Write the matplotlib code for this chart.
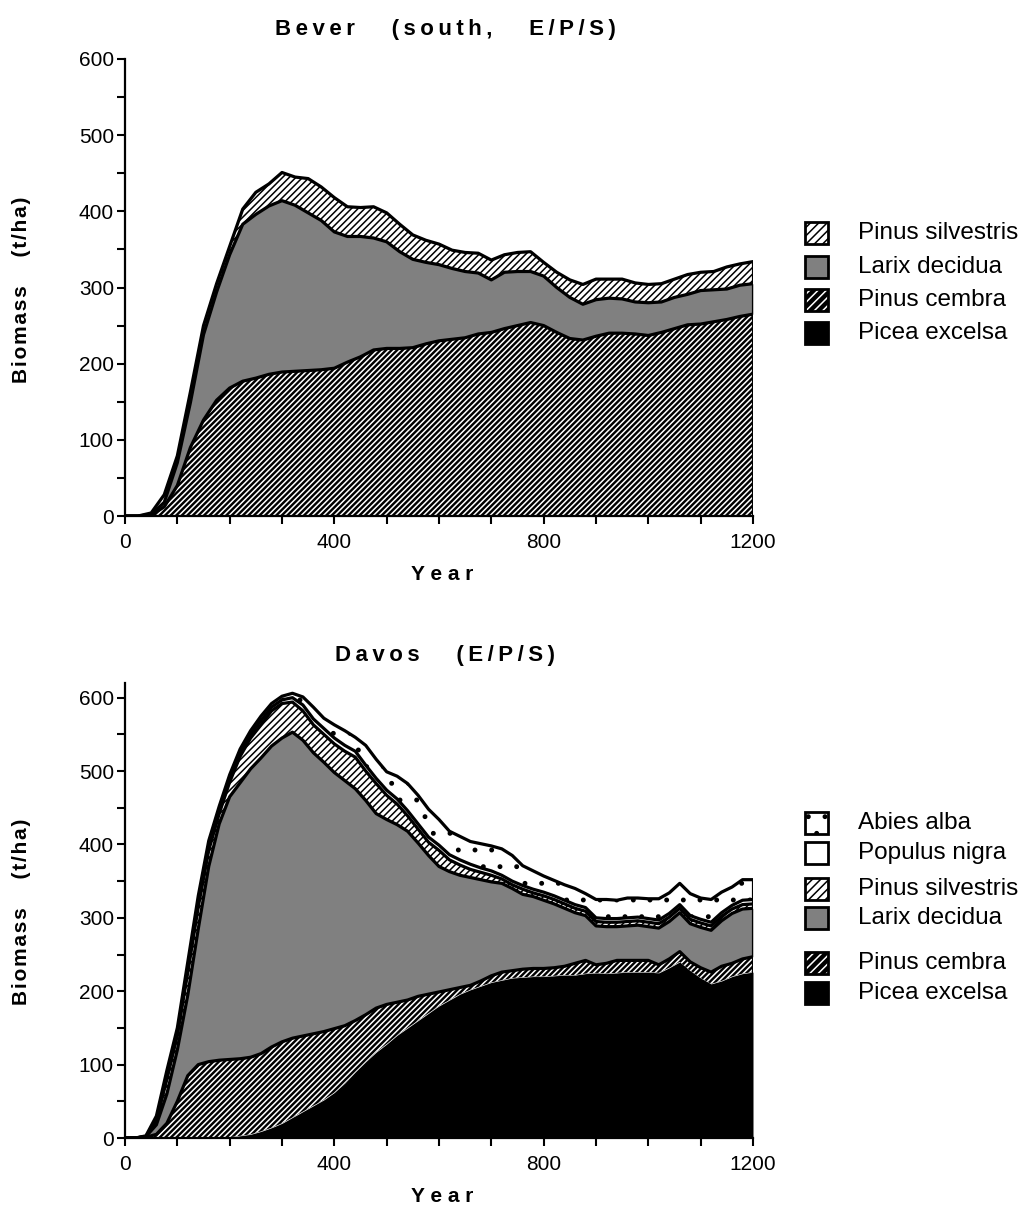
import numpy as np
import matplotlib
matplotlib.use("Agg")
import matplotlib.pyplot as plt
from matplotlib.patches import Rectangle

plt.rcParams['font.family'] = ['Liberation Sans', 'DejaVu Sans']
plt.rcParams['hatch.linewidth'] = 1.1

# ---------------- data: Bever (south) -- cumulative upper boundaries ----------------
bever_years = [0, 25, 50, 75, 100, 125, 150, 175, 200, 225, 250, 275, 300, 325, 350, 375,
               400, 425, 450, 475, 500, 525, 550, 575, 600, 625, 650, 675, 700, 725, 750,
               775, 800, 825, 850, 875, 900, 925, 950, 975, 1000, 1025, 1050, 1075, 1100,
               1125, 1150, 1175, 1200]
bever_picea_top = [0] * 49
bever_cembra_top = [0, 0, 1, 12, 40, 90, 126, 152, 168, 177, 181, 186, 189, 190, 191, 192,
                    194, 202, 209, 218, 220, 220, 221, 226, 230, 232, 234, 239, 241, 246, 250,
                    254, 250, 241, 233, 231, 236, 240, 240, 239, 237, 241, 246, 251, 252,
                    255, 258, 262, 265]
bever_larix_top = [0, 0, 2, 18, 70, 149, 238, 294, 343, 383, 396, 407, 414, 408, 398, 388,
                   373, 367, 367, 365, 360, 347, 337, 333, 330, 325, 321, 319, 310, 320, 321,
                   321, 315, 300, 287, 278, 284, 286, 285, 281, 280, 281, 287, 291, 296,
                   297, 298, 303, 305]
bever_silvestris_top = [0, 0, 4, 28, 79, 163, 250, 305, 354, 403, 425, 436, 451, 445, 443, 432,
                        418, 406, 405, 406, 398, 383, 369, 362, 357, 349, 346, 345, 336, 343, 346,
                        347, 333, 320, 310, 304, 311, 311, 311, 306, 304, 305, 311, 317, 320,
                        321, 327, 331, 334]
bever_labels = ['Pinus silvestris', 'Larix decidua', 'Pinus cembra', 'Picea excelsa']

# ---------------- data: Davos -- cumulative upper boundaries ----------------
davos_years = list(range(0, 1201, 20))
davos_picea_top = [0, 0, 0, 0, 0, 0, 0, 0, 0, 0,
                   1, 3, 5, 9, 14, 20, 28, 36, 44, 52, 62, 75, 90, 104, 117, 128, 140, 150,
                   160, 170, 180, 188, 196, 202, 207, 212, 215, 218, 219, 220, 220, 221, 222,
                   222, 224, 225, 224, 225, 226, 226, 226, 225, 232, 240, 228, 218, 210, 214,
                   220, 224, 226]
davos_cembra_top = [0, 0, 1, 5, 20, 50, 85, 100, 104, 106,
                    107, 108, 110, 115, 124, 131, 136, 139, 142, 145, 149, 153, 160, 168, 177,
                    182, 185, 188, 193, 196, 199, 202, 205, 208, 214, 221, 226, 228, 230, 231,
                    231, 232, 234, 238, 242, 236, 238, 242, 242, 242, 242, 236, 244, 254, 240,
                    232, 226, 234, 238, 244, 247]
davos_larix_top = [0, 0, 2, 18, 60, 120, 195, 285, 370, 428,
                   465, 484, 503, 518, 534, 545, 553, 542, 525, 512, 498, 487, 476, 460, 442,
                   434, 427, 418, 402, 385, 370, 363, 358, 355, 352, 349, 347, 340, 332, 329,
                   324, 319, 313, 307, 303, 289, 288, 288, 289, 290, 288, 286, 295, 307, 292,
                   287, 283, 296, 306, 312, 313]
davos_silvestris_top = [0, 0, 2, 24, 80, 140, 226, 315, 392, 442,
                        485, 520, 545, 563, 582, 592, 594, 582, 563, 550, 537, 527, 519, 500, 483,
                        467, 455, 439, 421, 403, 392, 379, 372, 366, 362, 358, 353, 345, 339, 334,
                        330, 325, 319, 313, 309, 295, 294, 294, 295, 296, 294, 292, 301, 313, 298,
                        293, 289, 302, 312, 318, 319]
davos_populus_top = [0, 0, 2, 26, 83, 143, 230, 320, 397, 447,
                     490, 526, 550, 569, 587, 597, 600, 590, 571, 558, 545, 535, 527, 508, 490,
                     474, 462, 446, 428, 410, 399, 386, 379, 373, 368, 364, 358, 350, 344, 339,
                     335, 330, 324, 318, 314, 300, 299, 299, 300, 301, 299, 297, 306, 318, 303,
                     298, 294, 307, 317, 324, 325]
davos_abies_top = [0, 0, 3, 30, 92, 150, 240, 330, 405, 452,
                   495, 530, 555, 575, 592, 602, 606, 601, 587, 572, 563, 555, 546, 535, 516,
                   499, 493, 483, 467, 448, 434, 418, 411, 404, 401, 398, 394, 385, 371, 364,
                   357, 351, 345, 340, 333, 325, 325, 324, 327, 327, 326, 326, 334, 347, 333,
                   327, 325, 335, 342, 352, 352]
davos_labels = ['Abies alba', 'Populus nigra', 'Pinus silvestris', 'Larix decidua',
                'Pinus cembra', 'Picea excelsa']

x_ticks = list(range(0, 1201, 100))
x_ticklabels = ['0', '', '', '', '400', '', '', '', '800', '', '', '', '1200']
y_ticks = list(range(0, 601, 50))
y_ticklabels = [str(v) if v % 100 == 0 else '' for v in y_ticks]

# ---------------- styles ----------------
STY = {
    'Picea excelsa': dict(fc='black', hc='black', hatch=None),
    'Pinus cembra': dict(fc='black', hc='white', hatch='//////'),
    'Larix decidua': dict(fc='#808080', hc='#808080', hatch=None),
    'Pinus silvestris': dict(fc='white', hc='black', hatch='/////'),
    'Populus nigra': dict(fc='white', hc='white', hatch=None),
    'Abies alba': dict(fc='white', hc='black', hatch='.'),
}
LEG_HATCH = {'Pinus cembra': '////', 'Pinus silvestris': '////', 'Abies alba': '.'}

W, H = 1024, 1206
fig = plt.figure(figsize=(W / 100, H / 100), dpi=100)


def spaced(s, sep='\u2009'):
    return sep.join(s)


def draw_stack(ax, years, tops, names):
    yrs = np.array(years, dtype=float)
    lower = np.zeros(len(yrs))
    for top, name in zip(tops, names):
        upper = np.array(top, dtype=float)
        st = STY[name]
        ax.fill_between(yrs, lower, upper, facecolor=st['fc'], edgecolor=st['hc'],
                        hatch=st['hatch'], linewidth=0, zorder=2)
        lower = upper
    for top in tops[1:]:
        ax.plot(yrs, top, color='black', lw=2.3, solid_joinstyle='round',
                solid_capstyle='round', zorder=3)
    ax.plot([yrs[-1], yrs[-1]], [0, tops[-1][-1]], color='black', lw=2.3, zorder=3)


def style_axes(ax, ymax):
    ax.set_xlim(0, 1200)
    ax.set_ylim(0, ymax)
    for s in ['top', 'right']:
        ax.spines[s].set_visible(False)
    for s in ['left', 'bottom']:
        ax.spines[s].set_linewidth(1.6)
        ax.spines[s].set_zorder(5)
    ax.set_xticks(x_ticks)
    ax.set_xticklabels(x_ticklabels)
    ax.set_yticks(y_ticks)
    ax.set_yticklabels(y_ticklabels)
    ax.tick_params(direction='out', length=6, width=1.5, labelsize=15, pad=2)
    ax.tick_params(axis='x', pad=6)
    ax.set_facecolor('none')


def legend(entries, ys, x=805, w=23, h=22, tx=858):
    for name, yc in zip(entries, ys):
        st = STY[name]
        y0 = 1 - (yc + h / 2) / H
        r = Rectangle((x / W, y0), w / W, h / H, transform=fig.transFigure,
                      facecolor=st['fc'], edgecolor=st['hc'], hatch=LEG_HATCH.get(name), lw=0)
        fig.add_artist(r)
        fig.add_artist(Rectangle((x / W, y0), w / W, h / H, transform=fig.transFigure,
                                 facecolor='none', edgecolor='black', lw=2.0))
        fig.text(tx / W, 1 - yc / H, name, fontsize=17.5, va='center', ha='left')


YLAB = spaced('Biomass', '\u200a') + '     ' + spaced('(t/ha)', '\u200a')

# ---------------- top chart ----------------
ax1 = fig.add_axes([125 / W, 1 - 516 / H, 628 / W, 457 / H])
draw_stack(ax1, bever_years,
           [bever_picea_top, bever_cembra_top, bever_larix_top, bever_silvestris_top],
           ['Picea excelsa', 'Pinus cembra', 'Larix decidua', 'Pinus silvestris'])
style_axes(ax1, 600)
fig.text(445 / W, 1 - 29 / H,
         spaced('Bever') + '      ' + spaced('(south,') + '      ' + spaced('E/P/S)'),
         fontsize=16, fontweight='bold', ha='center', va='center')
fig.text(442 / W, 1 - 575 / H, spaced('Year', ' '), fontsize=15, fontweight='bold',
         ha='center', va='center')
fig.text(22 / W, 1 - 290 / H, YLAB, fontsize=15,
         fontweight='bold', ha='center', va='center', rotation=90)
legend(bever_labels, [233, 267, 300, 333])

# ---------------- bottom chart ----------------
ax2 = fig.add_axes([125 / W, 1 - 1138 / H, 628 / W, 455 / H])
draw_stack(ax2, davos_years,
           [davos_picea_top, davos_cembra_top, davos_larix_top, davos_silvestris_top,
            davos_populus_top, davos_abies_top],
           ['Picea excelsa', 'Pinus cembra', 'Larix decidua', 'Pinus silvestris',
            'Populus nigra', 'Abies alba'])
style_axes(ax2, 620)
fig.text(445 / W, 1 - 655 / H, spaced('Davos') + '      ' + spaced('(E/P/S)'),
         fontsize=16, fontweight='bold', ha='center', va='center')
fig.text(442 / W, 1 - 1196 / H, spaced('Year', ' '), fontsize=15, fontweight='bold',
         ha='center', va='center')
fig.text(22 / W, 1 - 912 / H, YLAB, fontsize=15,
         fontweight='bold', ha='center', va='center', rotation=90)
legend(davos_labels, [823, 853, 889, 918, 963, 993])

fig.savefig('out.png', dpi=100, facecolor='white')
